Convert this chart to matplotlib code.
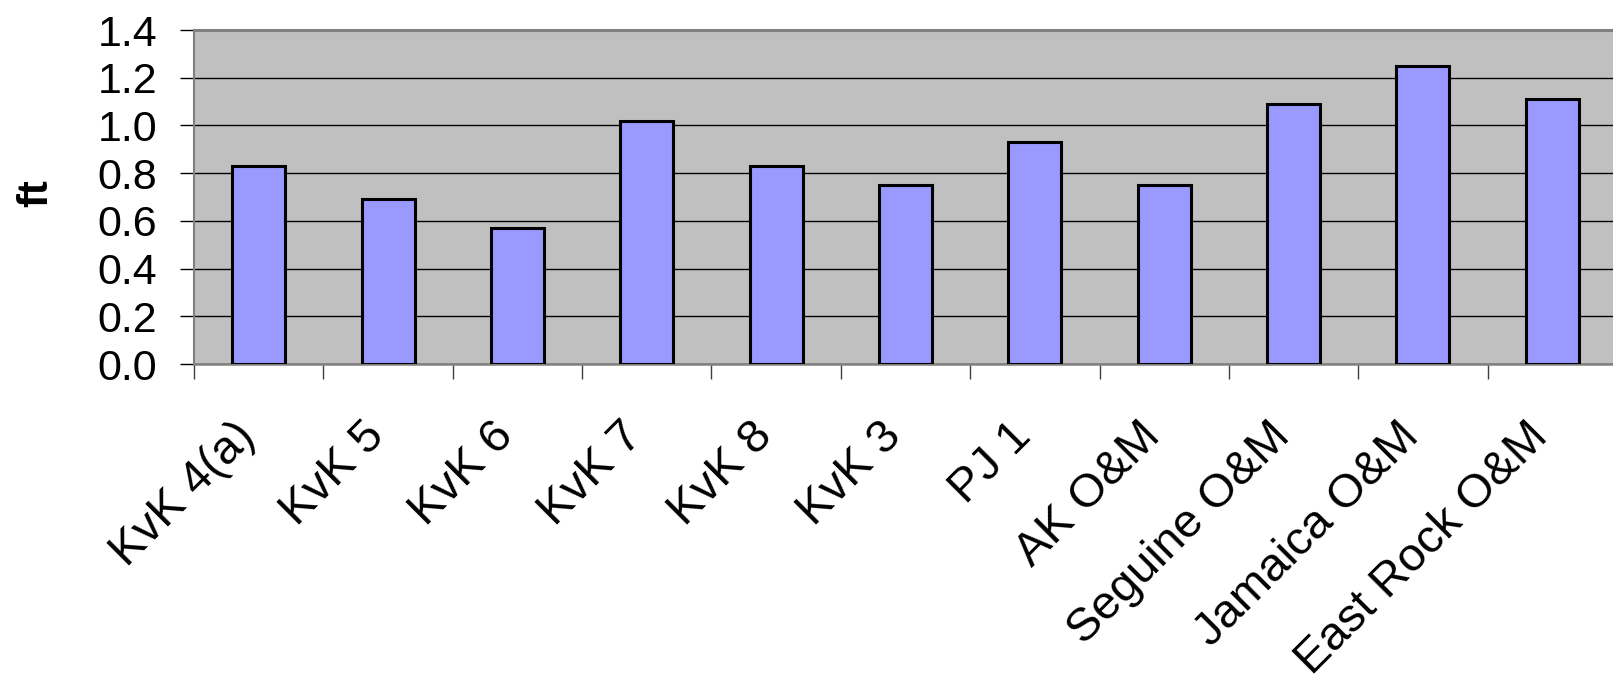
import matplotlib.pyplot as plt
import matplotlib.transforms as mtransforms
import numpy as np
from matplotlib.ticker import FormatStrFormatter

plt.rcParams["font.family"] = ["Liberation Sans", "DejaVu Sans"]

# wave heights per site, ft
SITES = [
    "KvK 4(a)", "KvK 5", "KvK 6", "KvK 7", "KvK 8", "KvK 3",
    "PJ 1", "AK O&M", "Seguine O&M", "Jamaica O&M", "East Rock O&M",
]
HEIGHT_FT = [0.83, 0.69, 0.57, 1.02, 0.83, 0.75, 0.93, 0.75, 1.09, 1.25, 1.11]
Y_TICKS = [0.0, 0.2, 0.4, 0.6, 0.8, 1.0, 1.2, 1.4]

W, H = 1613, 675
fig = plt.figure(figsize=(W / 100, H / 100), dpi=100)
# plot box: left 194 px, top 30 px, bottom 364 px; the last category runs past the right edge
ax = fig.add_axes([194 / W, (H - 364) / H, (1617 - 194) / W, 334 / H])
ax.set_facecolor("#C0C0C0")

x = np.arange(len(SITES))
ax.bar(x, HEIGHT_FT, width=0.41, color="#9999FF", edgecolor="black",
       linewidth=2.2, zorder=3)

ax.set_xlim(-0.5, len(SITES) - 0.5)
ax.set_ylim(0, 1.4)
ax.set_yticks(Y_TICKS)
ax.yaxis.set_major_formatter(FormatStrFormatter("%.1f"))
ax.set_axisbelow(True)
ax.yaxis.grid(True, color="black", linewidth=1.0)

# category boundaries carry the x ticks
ax.set_xticks(np.arange(len(SITES) + 1) - 0.5, minor=True)
ax.set_xticks(x)
ax.set_xticklabels(SITES, rotation=45, ha="right", va="top",
                   rotation_mode="anchor")
ax.tick_params(axis="x", which="major", length=0, pad=36, labelsize=34)
ax.tick_params(axis="x", which="minor", length=10.5, width=1.0,
               color="#404040", direction="out")
ax.tick_params(axis="y", length=10, width=1.0, color="black", pad=16.5,
               labelsize=31, direction="out")

offset = mtransforms.ScaledTranslation(-19 / 72, 0, fig.dpi_scale_trans)
for lbl in ax.get_xticklabels():
    lbl.set_transform(lbl.get_transform() + offset)

for side in ("left", "top", "bottom"):
    ax.spines[side].set_color("#808080")
ax.spines["left"].set_linewidth(1.5)
ax.spines["top"].set_linewidth(2.2)
ax.spines["bottom"].set_linewidth(1.8)
ax.spines["right"].set_visible(False)

fig.text(36 / W, 1 - 193 / H, "ft", rotation=90, fontsize=30,
         fontweight="bold", ha="center", va="center")

fig.savefig("out.png", dpi=100, facecolor="white")
